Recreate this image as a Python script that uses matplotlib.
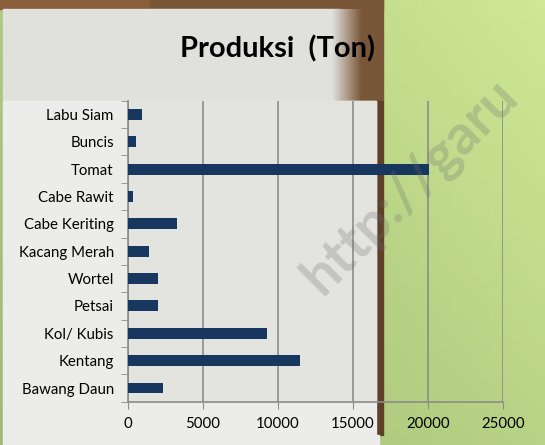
import numpy as np
import matplotlib.pyplot as plt
from matplotlib.patches import Rectangle
from matplotlib.colors import LinearSegmentedColormap

plt.rcParams['font.family'] = ['Lato', 'DejaVu Sans']

# data (bottom to top, as drawn)
categories = ["Bawang Daun", "Kentang", "Kol/ Kubis", "Petsai", "Wortel",
              "Kacang Merah", "Cabe Keriting", "Cabe Rawit", "Tomat",
              "Buncis", "Labu Siam"]
produksi = [2350, 11500, 9300, 2050, 2000, 1450, 3300, 350, 20100, 550, 950]
xticks = [0, 5000, 10000, 15000, 20000, 25000]

W, H = 545, 445
fig = plt.figure(figsize=(W / 100, H / 100), dpi=100)

# background drawn in pixel coordinates
bg = fig.add_axes([0, 0, 1, 1], zorder=0)

green = LinearSegmentedColormap.from_list("g", ["#a2ba76", "#b4ce82", "#cfe896"])
gx, gy = np.meshgrid(np.linspace(0, 1, 60), np.linspace(1, 0, 60))
bg.imshow((gx * 0.6 + gy * 0.4), cmap=green, extent=[0, W, H, 0],
          aspect="auto", zorder=0)

brown = "#7a5638"
bg.add_patch(Rectangle((0, 0), 383, 9, color="#8a5e38", zorder=1))
bg.add_patch(Rectangle((150, 0), 233, 9, color=brown, zorder=1))
bg.add_patch(Rectangle((340, 9), 43, 92, color=brown, zorder=1))
bg.add_patch(Rectangle((376, 101), 7, 334, color="#5e4029", zorder=1))
bg.add_patch(Rectangle((3, 9), 337, 92, color="#e0e0dc", zorder=1))
# fade from panel into wood
fade = LinearSegmentedColormap.from_list("f", ["#e0e0dc", brown])
bg.imshow(np.linspace(0, 1, 40)[None, :], cmap=fade, extent=[332, 362, 101, 9],
          aspect="auto", zorder=2)
bg.add_patch(Rectangle((3, 101), 373, 344, color="#ececea", zorder=3))
bg.add_patch(Rectangle((128, 101), 248, 301, color="#e3e3df", zorder=3))
bg.add_patch(Rectangle((376, 435), 3, 10, color="#ececea", zorder=3))
bg.set_xlim(0, W)
bg.set_ylim(H, 0)
bg.axis("off")

ax = fig.add_axes([127.7 / W, 1 - 401.7 / H, 375 / W, 301 / H], zorder=2)
ax.patch.set_alpha(0)
y = np.arange(len(categories))
ax.barh(y, produksi, height=0.4, color="#17375e", zorder=3)

ax.set_xlim(0, 25000)
ax.set_ylim(-0.5, len(categories) - 0.5)
ax.set_xticks(xticks)
ax.set_xticklabels([str(v) for v in xticks], fontsize=10.8)
ax.set_yticks(y)
ax.set_yticklabels(categories, fontsize=10.8)
ax.set_yticks(np.arange(-0.5, len(categories)), minor=True)
ax.tick_params(axis="y", which="major", length=0, pad=10)
ax.tick_params(axis="y", which="minor", length=5, color="#8c8c8c", direction="out")
ax.tick_params(axis="x", length=5, color="#8c8c8c", pad=6)
ax.grid(axis="x", color="#8c8c8c", linewidth=1.2, zorder=1)
for s in ["top", "right"]:
    ax.spines[s].set_visible(False)
for s in ["left", "bottom"]:
    ax.spines[s].set_color("#8c8c8c")
    ax.spines[s].set_linewidth(1.2)

fig.text(277 / W, 1 - 49 / H, "Produksi  (Ton)", fontsize=21, fontweight="bold",
         ha="center", va="center", zorder=3)

fig.text(322 / W, 1 - 296 / H, "http://garu", fontsize=40,
         fontweight="bold", color="#6a6a6a", alpha=0.26, rotation=45,
         rotation_mode="anchor", ha="left", va="baseline", zorder=4)

fig.savefig("out.png", dpi=100)
